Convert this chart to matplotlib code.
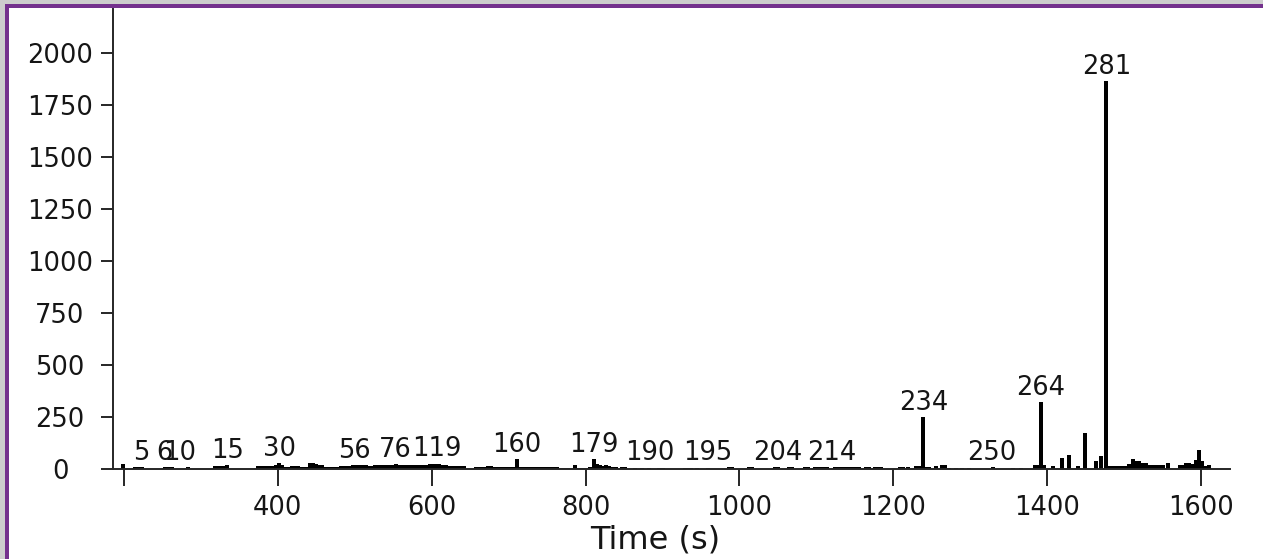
import matplotlib
matplotlib.use("Agg")
import matplotlib.pyplot as plt
from matplotlib.patches import Rectangle
import numpy as np

# Bar centres (s) and intensities
times = [
    199,
    215, 219, 223,
    253, 259, 263,
    283,
    318, 322, 326, 330, 334,
    374, 378, 382, 386, 390, 394, 398, 402, 406, 410, 414, 418, 422, 426, 430, 434, 438,
    442, 446, 450, 454, 458, 462, 466, 470, 474, 478, 482, 486, 490, 494,
    498, 502, 506, 510, 514, 518, 522, 526, 530, 534, 538, 542, 546, 550,
    554, 558, 562, 566, 570, 574, 578, 582, 586, 590, 594, 598, 602, 606, 610,
    614, 618, 622, 626, 630, 634, 638, 642,
    657, 661, 665, 669, 673, 677, 682, 686, 690, 694, 698, 702, 706, 711,
    715, 719, 723, 727, 731, 735, 739, 743, 747, 751, 755, 759, 763,
    769, 773, 777, 786, 792, 796, 800, 806, 811, 815, 819, 823, 827, 831, 835, 839,
    847, 851,
    864, 873, 882, 895, 901, 929, 933, 937, 945, 959,
    986, 990, 1012, 1016, 1046, 1050, 1064, 1068, 1085, 1089,
    1098, 1102, 1106, 1110, 1114,
    1124, 1128, 1132, 1136, 1140, 1144, 1148, 1152, 1156, 1164, 1168, 1176, 1180, 1184,
    1209, 1213, 1219, 1229, 1233, 1239, 1243, 1247, 1256, 1263, 1267, 1272,
    1281, 1289, 1298, 1329, 1356, 1366,
    1384, 1388, 1392, 1396, 1408, 1419, 1428, 1440, 1449, 1464, 1470, 1477,
    1482, 1486, 1491, 1495, 1499, 1503, 1507, 1512, 1516, 1520, 1524, 1528,
    1534, 1538, 1542, 1546, 1550, 1557,
    1573, 1577, 1581, 1585, 1589, 1593, 1597, 1601, 1605, 1610,
]
heights = [
    25,
    12, 12, 12,
    12, 12, 12,
    10,
    16, 16, 16, 18, 22,
    16, 16, 16, 16, 16, 16, 20, 29, 20, 13, 13, 16, 16, 16, 10, 10, 10,
    29, 29, 24, 21, 21, 13, 13, 13, 13, 13, 16, 16, 16, 16,
    21, 21, 21, 21, 21, 16, 16, 19, 19, 19, 19, 19, 19, 19,
    24, 21, 21, 21, 21, 21, 21, 21, 21, 21, 21, 24, 24, 27, 27,
    21, 21, 16, 16, 16, 16, 16, 16,
    13, 13, 13, 13, 16, 16, 13, 13, 13, 13, 13, 13, 13, 48,
    13, 13, 13, 13, 13, 13, 13, 10, 10, 10, 10, 10, 10,
    8, 8, 8, 19, 8, 8, 8, 13, 48, 24, 19, 16, 19, 16, 13, 13,
    10, 10,
    8, 8, 8, 8, 8, 8, 8, 8, 8, 8,
    10, 10, 10, 10, 10, 10, 10, 10, 10, 10,
    10, 10, 10, 10, 10,
    10, 10, 10, 10, 10, 10, 10, 10, 10, 10, 10, 10, 10, 10,
    13, 13, 13, 16, 16, 250, 13, 13, 16, 19, 19, 8,
    8, 8, 8, 10, 8, 8,
    22, 22, 324, 22, 16, 53, 69, 16, 175, 40, 64, 1868,
    16, 16, 16, 16, 16, 16, 27, 48, 40, 40, 29, 29,
    19, 19, 19, 19, 19, 29,
    22, 22, 32, 32, 26, 45, 93, 40, 16, 19,
]

# Peak numbers written above the bars
peak_labels = ["5", "6", "10", "15", "30", "56", "76", "119", "160", "179",
               "190", "195", "204", "214", "234", "250", "264", "281"]
peak_times = [223, 253, 273, 335, 402, 500, 553, 607, 711, 811,
              884, 959, 1050, 1120, 1239, 1328, 1392, 1477]

x_ticks = [200, 400, 600, 800, 1000, 1200, 1400, 1600]
x_tick_labels = ["", "400", "600", "800", "1000", "1200", "1400", "1600"]
y_ticks = [0, 250, 500, 750, 1000, 1250, 1500, 1750, 2000]
x_title = "Time (s)"

W, H = 1263, 559
fig = plt.figure(figsize=(W / 100, H / 100), dpi=100, facecolor="#cdcdcd")

# window frame: purple border with white interior
fig.patches.append(Rectangle((5 / W, -0.1), 1.2, (H - 4) / H + 0.1,
                             transform=fig.transFigure, facecolor="#74318d",
                             edgecolor="none", zorder=-10))
fig.patches.append(Rectangle((9 / W, -0.1), 1.2, (H - 8) / H + 0.1,
                             transform=fig.transFigure, facecolor="white",
                             edgecolor="none", zorder=-9))

ax = fig.add_axes([112.7 / W, (H - 469.3) / H, (1230 - 112.7) / W, (469.3 - 9) / H])
ax.set_zorder(2)
ax.patch.set_visible(False)

ax.bar(times, heights, width=5.2, color="black", linewidth=0, align="center")
ax.set_xlim(185.4, 1637.7)
ax.set_ylim(0, 2214)

axis_color = "#262626"
for side in ("top", "right"):
    ax.spines[side].set_visible(False)
for side in ("left", "bottom"):
    ax.spines[side].set_color(axis_color)
    ax.spines[side].set_linewidth(1.4)

text_color = "#151515"
fs = 18.5
ax.set_xticks(x_ticks)
ax.set_xticklabels(x_tick_labels)
ax.set_yticks(y_ticks)
ax.set_yticklabels([str(v) for v in y_ticks])
ax.tick_params(axis="x", direction="out", length=12.2, width=1.4, color=axis_color,
               pad=6.5, labelsize=fs, labelcolor=text_color)
ax.tick_params(axis="y", direction="out", length=8.6, width=1.4, color=axis_color,
               pad=29.3, labelsize=fs, labelcolor=text_color)
for lbl in ax.get_yticklabels():
    lbl.set_horizontalalignment("center")

t_arr = np.array(times)
h_arr = np.array(heights)
for txt, t in zip(peak_labels, peak_times):
    near = np.abs(t_arr - t) <= 10
    top = h_arr[near].max() if near.any() else 0
    ax.annotate(txt, (t, top), xytext=(0, 5.2), textcoords="offset points",
                ha="center", va="baseline", fontsize=fs, color=text_color,
                annotation_clip=False)

fig.text(655 / W, 1 - 540 / H, x_title, ha="center", va="center",
         fontsize=23, color=text_color)

fig.savefig("out.png", dpi=100, facecolor=fig.get_facecolor())
